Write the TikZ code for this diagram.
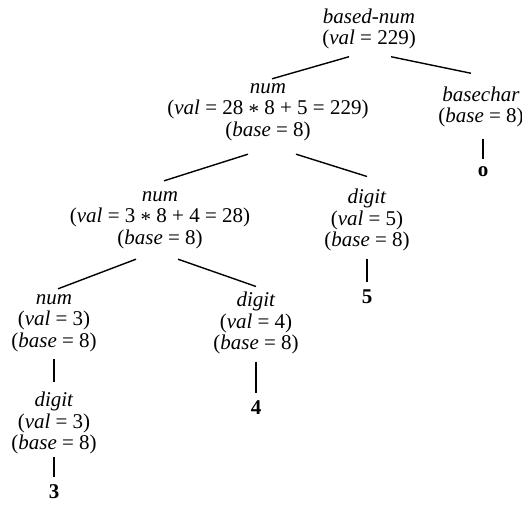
\documentclass[tikz,border=0pt]{standalone}
\usepackage{fontspec}
\setmainfont{Liberation Serif}
\newcommand{\mul}{\raisebox{-0.35ex}{*}}
\begin{document}
\begin{tikzpicture}[x=0.5pt,y=-0.5pt,
  attr/.style={align=center,inner sep=0pt,font=\fontsize{10.5}{10.8}\selectfont},
  leaf/.style={inner sep=0pt,font=\fontsize{10.5}{10.8}\selectfont\bfseries},
  br/.style={line width=0.7pt}]
  \useasboundingbox (0,0) rectangle (522,513);
  % attributed nodes of the parse tree
  \node[attr] (root) at (369,29){\textit{based-num}\\(\textit{val} = 229)};
  \node[attr] (num1) at (268,112){\textit{num}\\(\textit{val} = 28 \mul{} 8 + 5 = 229)\\(\textit{base} = 8)};
  \node[attr] (bchar) at (481,107){\textit{basechar}\\(\textit{base} = 8)};
  \node[attr] (num2) at (160,220){\textit{num}\\(\textit{val} = 3 \mul{} 8 + 4 = 28)\\(\textit{base} = 8)};
  \node[attr] (dig5) at (367,220){\textit{digit}\\(\textit{val} = 5)\\(\textit{base} = 8)};
  \node[attr] (num3) at (54,323){\textit{num}\\(\textit{val} = 3)\\(\textit{base} = 8)};
  \node[attr] (dig4) at (256,323){\textit{digit}\\(\textit{val} = 4)\\(\textit{base} = 8)};
  \node[attr] (dig3) at (54,423){\textit{digit}\\(\textit{val} = 3)\\(\textit{base} = 8)};
  % leaves
  \node[leaf] (lo) at (483,172){o};
  \node[leaf] (l5) at (367,297){5};
  \node[leaf] (l4) at (256,408){4};
  \node[leaf] (l3) at (54,492){3};
  % branches
  \draw[br] ([xshift=-10pt,yshift=-3.5pt]root.south) -- ([xshift=2pt,yshift=2pt]num1.north);
  \draw[br] ([xshift=11pt,yshift=-3.5pt]root.south) -- ([xshift=-5pt,yshift=6.5pt]bchar.north);
  \draw[br] ([xshift=-10pt,yshift=-6.5pt]num1.south) -- ([xshift=2pt,yshift=5pt]num2.north);
  \draw[br] ([xshift=14pt,yshift=-6.5pt]num1.south) -- ([xshift=0pt,yshift=6pt]dig5.north);
  \draw[br] ([xshift=-12pt,yshift=-5pt]num2.south) -- ([xshift=2pt,yshift=2.5pt]num3.north);
  \draw[br] ([xshift=9pt,yshift=-5pt]num2.south) -- ([xshift=0pt,yshift=2.5pt]dig4.north);
  \draw[br] ([yshift=-5.5pt]bchar.south -| lo) -- ([yshift=4pt]lo.north);
  \draw[br] ([yshift=-3.5pt]dig5.south) -- ([yshift=4pt]l5.north);
  \draw[br] ([yshift=-3.5pt]num3.south) -- ([yshift=4.5pt]dig3.north);
  \draw[br] ([yshift=-3.5pt]dig4.south) -- ([yshift=4pt]l4.north);
  \draw[br] ([yshift=-1pt]dig3.south) -- ([yshift=4pt]l3.north);
\end{tikzpicture}
\end{document}
